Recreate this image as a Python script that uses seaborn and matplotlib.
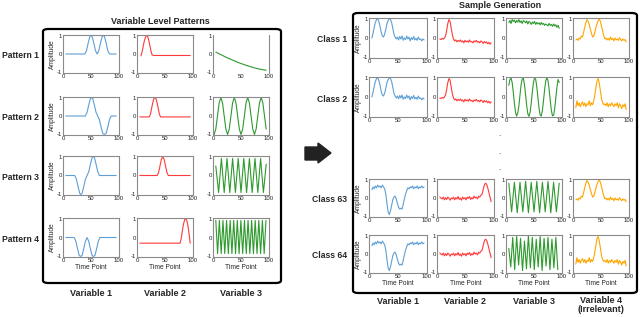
import numpy as np
import matplotlib.pyplot as plt
import seaborn as sns
from matplotlib.patches import FancyBboxPatch, Polygon

# ---------- data: left block (variable level patterns) ----------
p1v1_x = [5, 39, 42, 45, 48, 50, 52, 55, 58, 61, 64, 67, 70, 72, 74, 77, 80, 83, 95]
p1v1_y = [0, 0, 0.18, 0.6, 0.95, 1.0, 0.95, 0.6, 0.18, 0, 0.18, 0.6, 0.95, 1.0, 0.95, 0.6, 0.18, 0, 0]
p1v2_x = [7, 9, 11, 13, 15, 17, 19, 21, 23, 25, 27, 30, 95]
p1v2_y = [-0.1, 0.1, 0.4, 0.7, 0.9, 1.0, 0.95, 0.75, 0.45, 0.15, -0.05, -0.08, -0.08]
p1v3_x = [5, 15, 25, 35, 45, 55, 65, 75, 85, 95]
p1v3_y = [0.1, -0.05, -0.2, -0.33, -0.46, -0.57, -0.67, -0.76, -0.83, -0.88]

p2v1_x = [5, 40, 43, 46, 49, 51, 53, 56, 59, 62, 65, 68, 71, 74, 77, 80, 83, 86, 95]
p2v1_y = [0, 0, 0.2, 0.6, 0.95, 1.0, 0.95, 0.6, 0.2, 0, -0.2, -0.6, -0.95, -1.0, -0.95, -0.6, -0.2, 0, 0]
p2v2_x = [5, 22, 24, 26, 28, 30, 32, 34, 36, 38, 40, 42, 95]
p2v2_y = [-0.05, -0.05, 0.1, 0.4, 0.7, 0.93, 1.0, 0.93, 0.7, 0.4, 0.1, -0.05, -0.05]
p2v3_x = np.arange(2, 96, 3)
p2v3_y = [-1, -0.71, 0, 0.71, 1, 0.71, 0, -0.71,
          -1, -0.71, 0, 0.71, 1, 0.71, 0, -0.71,
          -1, -0.71, 0, 0.71, 1, 0.71, 0, -0.71,
          -1, -0.71, 0, 0.71, 1, 0.71, 0, -0.71]

p3v1_x = [5, 21, 24, 27, 30, 32, 34, 37, 40, 43, 46, 49, 52, 54, 56, 59, 62, 65, 95]
p3v1_y = [0, 0, -0.2, -0.6, -0.95, -1.0, -0.95, -0.6, -0.2, 0, 0.2, 0.6, 0.95, 1.0, 0.95, 0.6, 0.2, 0, 0]
p3v2_x = [5, 36, 38.5, 41, 43.5, 46, 48.5, 51, 53.5, 56, 95]
p3v2_y = [0, 0, 0.15, 0.5, 0.85, 1.0, 0.85, 0.5, 0.15, 0, 0]
p3v3_x = np.arange(5, 96, 5)
p3v3_y = [0.5, -0.9, 0.9, -0.9, 0.9, -0.9, 0.9, -0.9, 0.9, -0.9,
          0.9, -0.9, 0.9, -0.9, 0.9, -0.9, 0.9, -0.9, 0.6]

p4v1_x = [5, 20, 23, 26, 29, 31.5, 34, 37, 40, 43, 46, 49, 52, 54.5, 57, 60, 63, 66, 95]
p4v1_y = [0, 0, -0.2, -0.6, -0.95, -1.0, -0.95, -0.6, -0.2, 0, -0.2, -0.6, -0.95, -1.0, -0.95, -0.6, -0.2, 0, 0]
p4v2_x = [5, 77, 79, 81, 83, 85, 87, 89, 91, 93, 95]
p4v2_y = [-0.3, -0.3, -0.05, 0.35, 0.7, 0.93, 1.0, 0.9, 0.6, 0.2, -0.3]
p4v3_x = np.arange(5, 95, 3.2)
p4v3_y = [0.9, -0.85, 0.9, -0.85, 0.9, -0.85, 0.9, -0.85, 0.9, -0.85,
          0.9, -0.85, 0.9, -0.85, 0.9, -0.85, 0.9, -0.85, 0.9, -0.85,
          0.9, -0.85, 0.9, -0.85, 0.9, -0.85, 0.9, -0.85, 0.9]

# ---------- data: right block (generated samples) ----------
t2 = np.arange(5, 96, 2)
c1v1 = [0.0, 0.25, 0.55, 0.8, 0.95, 1.0, 0.85, 0.6, 0.3, 0.1,
        0.05, 0.2, 0.45, 0.75, 0.9, 1.0, 0.95, 0.8, 0.5, 0.2,
        0.05, -0.05, 0.05, -0.1, 0.08, -0.05, 0.1, -0.12, 0.0, -0.08,
        0.1, -0.05, 0.05, -0.15, 0.02, -0.08, 0.08, -0.1, -0.02, -0.12,
        0.05, -0.08, -0.05, -0.15, -0.05, -0.1]
c1v2 = [-0.05, -0.08, -0.02, -0.06, 0.0, 0.1, 0.4, 0.75, 0.95, 0.85,
        0.5, 0.15, -0.05, -0.15, -0.1, -0.2, -0.12, -0.18, -0.1, -0.2,
        -0.15, -0.25, -0.12, -0.2, -0.15, -0.22, -0.1, -0.2, -0.18, -0.25,
        -0.15, -0.2, -0.12, -0.22, -0.18, -0.25, -0.15, -0.2, -0.28, -0.18,
        -0.25, -0.2, -0.3, -0.22, -0.32, -0.25]
c1v3 = [0.8, 0.9, 0.75, 0.95, 0.85, 0.92, 0.78, 0.9, 0.82, 0.95,
        0.8, 0.88, 0.75, 0.9, 0.85, 0.78, 0.88, 0.72, 0.85, 0.8,
        0.7, 0.82, 0.75, 0.85, 0.7, 0.8, 0.72, 0.78, 0.68, 0.8,
        0.7, 0.75, 0.65, 0.72, 0.68, 0.62, 0.75, 0.65, 0.7, 0.6,
        0.72, 0.62, 0.68, 0.55, 0.65, 0.5]
c1v4 = [-0.1, -0.05, -0.12, 0.0, -0.05, 0.1, 0.05, 0.3, 0.55, 0.8,
        0.95, 0.85, 0.7, 0.45, 0.25, 0.05, 0.1, 0.3, 0.55, 0.75,
        0.9, 0.98, 0.85, 0.6, 0.35, 0.1, -0.05, 0.0, -0.1, -0.02,
        -0.12, 0.05, -0.08, -0.02, -0.15, 0.0, -0.1, -0.05, -0.12, 0.02,
        -0.08, -0.15, -0.05, -0.12, -0.08, -0.2]
c2v3 = [0.6, 0.9, 0.98, 0.74, 0.25, -0.33, -0.79, -0.98, -0.82, -0.46,
        0.11, 0.64, 0.93, 0.96, 0.64, 0.11, -0.46, -0.87, -1.0, -0.79,
        -0.33, 0.25, 0.74, 0.99, 0.91, 0.52, -0.04, -0.58, -0.93, -0.98,
        -0.69, -0.18, 0.39, 0.83, 1.0, 0.84, 0.39, -0.18, -0.69, -0.97,
        -0.94, -0.59, -0.04, 0.52, 0.9, 0.75]
c2v4 = [-0.55, -0.2, -0.45, -0.3, -0.5, -0.35, -0.25, -0.45, -0.3, -0.5,
        -0.35, -0.4, -0.2, -0.45, -0.3, -0.4, -0.2, 0.1, 0.5, 0.85,
        0.95, 0.7, 0.3, -0.1, -0.3, -0.4, -0.35, -0.45, -0.3, -0.5,
        -0.35, -0.45, -0.3, -0.4, -0.5, -0.35, -0.45, -0.3, -0.55, -0.35,
        -0.45, -0.6, -0.4, -0.5, -0.35, -0.65]
c63v1 = [0.45, 0.6, 0.5, 0.65, 0.55, 0.7, 0.6, 0.65, 0.55, 0.7,
         0.6, 0.5, 0.2, -0.3, -0.75, -0.9, -0.7, -0.4, -0.1, 0.05,
         0.1, -0.05, -0.3, -0.5, -0.6, -0.55, -0.6, -0.35, -0.05, 0.2,
         0.4, 0.55, 0.5, 0.6, 0.55, 0.65, 0.5, 0.6, 0.55, 0.65,
         0.5, 0.6, 0.55, 0.65, 0.55, 0.6]
c63v2 = [0.05, 0.0, -0.05, 0.05, -0.1, 0.02, -0.08, 0.05, -0.02, -0.12,
         0.0, -0.05, 0.05, -0.1, 0.02, -0.05, 0.08, -0.08, 0.0, -0.12,
         0.05, -0.05, 0.02, -0.1, 0.05, -0.02, 0.08, -0.08, 0.02, -0.05,
         0.1, 0.0, 0.05, -0.05, 0.1, 0.05, 0.15, 0.2, 0.45, 0.7,
         0.8, 0.75, 0.55, 0.3, 0.05, -0.2]
t5 = np.arange(5, 96, 5)
c63v3 = [0.8, -0.75, 0.85, -0.8, 0.85, -0.75, 0.9, -0.8, 0.85, -0.75,
         0.9, -0.8, 0.85, -0.75, 0.9, -0.8, 0.85, -0.75, 0.8]
t35 = np.arange(5, 93, 3.5)
c64v3 = [0.3, -0.7, 0.9, -0.85, 0.95, -0.6, 0.85, -0.9, 0.7, -0.8,
         1.0, -0.75, 0.9, -0.85, 0.8, -0.7, 0.95, -0.9, 0.85, -0.65,
         0.9, -0.85, 0.8, -0.75, 0.9, -0.85]

BLUE, RED, GREEN, ORANGE = '#5e9fd6', '#ff3a3a', '#2e9a2e', '#ffa500'

left_rows = ['Pattern 1', 'Pattern 2', 'Pattern 3', 'Pattern 4']
left_cols = ['Variable 1', 'Variable 2', 'Variable 3']
left_curves = [
    [(p1v1_x, p1v1_y, BLUE), (p1v2_x, p1v2_y, RED), (p1v3_x, p1v3_y, GREEN)],
    [(p2v1_x, p2v1_y, BLUE), (p2v2_x, p2v2_y, RED), (p2v3_x, p2v3_y, GREEN)],
    [(p3v1_x, p3v1_y, BLUE), (p3v2_x, p3v2_y, RED), (p3v3_x, p3v3_y, GREEN)],
    [(p4v1_x, p4v1_y, BLUE), (p4v2_x, p4v2_y, RED), (p4v3_x, p4v3_y, GREEN)],
]
right_rows = ['Class 1', 'Class 2', 'Class 63', 'Class 64']
right_cols = ['Variable 1', 'Variable 2', 'Variable 3', 'Variable 4\n(Irrelevant)']
right_curves = [
    [(t2, c1v1, BLUE), (t2, c1v2, RED), (t2, c1v3, GREEN), (t2, c1v4, ORANGE)],
    [(t2, c1v1, BLUE), (t2, c1v2, RED), (t2, c2v3, GREEN), (t2, c2v4, ORANGE)],
    [(t2, c63v1, BLUE), (t2, c63v2, RED), (t5, c63v3, GREEN), (t2, c1v4, ORANGE)],
    [(t2, c63v1, BLUE), (t2, c63v2, RED), (t35, c64v3, GREEN), (t2, c2v4, ORANGE)],
]

# ---------- layout (pixels) ----------
W, H = 640, 317
left_xs = [(63, 119), (137, 193), (213, 269)]
left_ys = [(35, 73), (97, 135), (156, 195), (218, 257)]
right_xs = [(369, 427), (437, 494), (506, 562), (573, 629)]
right_ys = [(18, 58), (77, 117), (179, 217), (235, 273)]

sns.set_style('white')
plt.rcParams['font.family'] = ['Liberation Sans', 'DejaVu Sans']
plt.rcParams['axes.unicode_minus'] = False

fig = plt.figure(figsize=(6.4, 3.17), dpi=100)


def add_panel(x0, x1, y0, y1, x, y, color, ylabel, xlabel, hide_tb=False):
    ax = fig.add_axes([x0 / W, 1 - y1 / H, (x1 - x0) / W, (y1 - y0) / H])
    sns.lineplot(x=x, y=y, ax=ax, color=color, linewidth=0.8)
    ax.set_xlim(0, 100)
    ax.set_ylim(-1.03, 1.03)
    ax.set_xticks([0, 50, 100])
    ax.set_yticks([-1, 0, 1])
    ax.tick_params(length=0, pad=0.8, labelsize=4.3, colors='#222222')
    for name, sp in ax.spines.items():
        sp.set_color('#8a8a8a')
        sp.set_linewidth(0.8)
        if hide_tb and name in ('top', 'bottom'):
            sp.set_visible(False)
    ax.set_xlabel('Time Point' if xlabel else '', fontsize=4.8, labelpad=0.8)
    ax.set_ylabel('Amplitude' if ylabel else '', fontsize=4.8, labelpad=0.5)
    return ax


for r, (y0, y1) in enumerate(left_ys):
    for c, (x0, x1) in enumerate(left_xs):
        x, y, col = left_curves[r][c]
        add_panel(x0, x1, y0, y1, x, y, col, c == 0, r == 3, hide_tb=(r == 0 and c == 2))
    fig.text(20 / W, 1 - ((y0 + y1) / 2 + 2) / H, left_rows[r], ha='center', va='center',
             fontsize=6.2, fontweight='bold')

for r, (y0, y1) in enumerate(right_ys):
    for c, (x0, x1) in enumerate(right_xs):
        x, y, col = right_curves[r][c]
        add_panel(x0, x1, y0, y1, x, y, col, c == 0, r == 3)
    fig.text(347 / W, 1 - ((y0 + y1) / 2 + 2) / H, right_rows[r], ha='right', va='center',
             fontsize=6.2, fontweight='bold')

for c, (x0, x1) in enumerate(left_xs):
    fig.text((x0 + x1) / 2 / W, 1 - 293 / H, left_cols[c], ha='center', va='center',
             fontsize=6.5, fontweight='bold')
for c, (x0, x1) in enumerate(right_xs):
    two = '\n' in right_cols[c]
    fig.text((x0 + x1) / 2 / W, 1 - (296 if two else 301) / H, right_cols[c], ha='center',
             va='top' if two else 'center', fontsize=6.5, fontweight='bold', linespacing=1.05)

fig.text(160 / W, 1 - 21 / H, 'Variable Level Patterns', ha='center', va='center', fontsize=6.5, fontweight='bold')
fig.text(500 / W, 1 - 5 / H, 'Sample Generation', ha='center', va='center', fontsize=6.5, fontweight='bold')

# rounded frames
for (bx0, by0, bx1, by1) in [(43, 29, 281, 283), (353, 13, 637, 293)]:
    box = FancyBboxPatch((bx0 / W, 1 - by1 / H), (bx1 - bx0) / W, (by1 - by0) / H,
                         boxstyle='round,pad=0,rounding_size=0.008', transform=fig.transFigure,
                         fill=False, lw=1.6, ec='black')
    fig.add_artist(box)

# arrow between the two blocks
arrow_px = [(305, 147), (318, 147), (318, 143), (331, 153), (318, 163), (318, 160), (305, 160)]
fig.add_artist(Polygon([(px / W, 1 - py / H) for px, py in arrow_px], closed=True,
                       transform=fig.transFigure, fc='#222222', ec='#222222'))

# vertical ellipsis
for dy in [135, 152, 168]:
    fig.text(499 / W, 1 - dy / H, '.', ha='center', va='center', fontsize=6)

fig.savefig('out.png', dpi=100)
